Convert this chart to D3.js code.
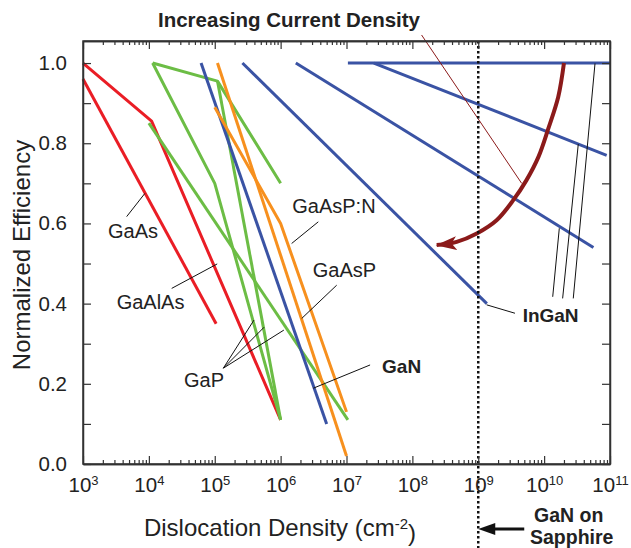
<!DOCTYPE html>
<html lang="en">
<head>
<meta charset="utf-8">
<title>Efficiency vs dislocation density</title>
<script src="https://cdn.jsdelivr.net/npm/d3@7"></script>
<style>
  body { margin: 0; background: #fff; }
  svg text { font-family: "Liberation Sans", Arial, sans-serif; fill: #222; }
</style>
</head>
<body>
<script>
// x = dislocation density (cm^-2), y = normalized efficiency
var gaAs   = [[1e3, 0.96], [1.05e5, 0.35]];
var gaAlAs = [[1e3, 1.0], [1.1e4, 0.855], [1e6, 0.11]];
var gaP1   = [[1.14e4, 1.0], [1.1e5, 0.955], [1e6, 0.70]];
var gaP2   = [[1.14e4, 1.0], [1e5, 0.70], [1e6, 0.11]];
var gaP3   = [[1.1e5, 0.955], [1e6, 0.11]];
var gaP4   = [[1e4, 0.85], [1.05e7, 0.11]];
var gaAsP  = [[1.1e5, 1.0], [1e7, 0.02]];
var gaAsPN = [[1e5, 0.89], [1e6, 0.60], [1e7, 0.13]];
var gaN    = [[6.2e4, 1.0], [5e6, 0.10]];
var inGaN1 = [[2.63e5, 1.0], [1.35e9, 0.40]];
var inGaN2 = [[1.7e6, 1.0], [5.6e10, 0.54]];
var inGaN3 = [[2.6e7, 1.0], [8.9e10, 0.77]];
var inGaN4 = [[1.05e7, 1.0], [1e11, 1.0]];

// current density arrow (curved) and its pointer line
var currentArrow = [[2.0e10, 1.0], [1.64e10, 0.916], [1.16e10, 0.837], [8.2e9, 0.766],
                    [5.4e9, 0.708], [3.4e9, 0.658], [1.9e9, 0.608], [9.5e8, 0.575],
                    [4.7e8, 0.554], [2.34e8, 0.546]];
var currentPointer = [[1.38e8, 1.07], [4.56e9, 0.70]];

var xExponents = [3, 4, 5, 6, 7, 8, 9, 10, 11];
var yTicks = [0, 0.1, 0.2, 0.3, 0.4, 0.5, 0.6, 0.7, 0.8, 0.9, 1.0];
var sapphireDensity = 1e9;

// labels: text, x, y, bold
var labels = [
  ["GaAs", 2.4e3, 0.563, false],
  ["GaAlAs", 3.24e3, 0.386, false],
  ["GaP", 3.41e4, 0.193, false],
  ["GaAsP:N", 1.5e6, 0.625, false],
  ["GaAsP", 3.07e6, 0.466, false],
  ["GaN", 3.47e7, 0.227, true],
  ["InGaN", 4.72e9, 0.355, true]
];

var leaders = [
  [[4.6e3, 0.617], [8.7e3, 0.675]],
  [[2.22e4, 0.438], [1.09e5, 0.499]],
  [[1.35e5, 0.239], [3.94e5, 0.359]],
  [[1.35e5, 0.239], [5.6e5, 0.341]],
  [[1.35e5, 0.239], [1.12e6, 0.334]],
  [[1.47e6, 0.550], [3.73e6, 0.604]],
  [[2.09e6, 0.363], [7.1e6, 0.446]],
  [[3.13e6, 0.189], [2.28e7, 0.247]],
  [[1.34e9, 0.397], [3.61e9, 0.376]],
  [[1.35e10, 0.417], [1.7e10, 0.588]],
  [[1.91e10, 0.413], [3.3e10, 0.798]],
  [[2.77e10, 0.413], [5.92e10, 0.999]]
];

var red = "#ea1d25", green = "#6cbd45", blue = "#3a53a4", orange = "#f7901e", darkRed = "#8b1a1a";

var series = [
  { d: gaAs, c: red }, { d: gaAlAs, c: red },
  { d: gaP1, c: green }, { d: gaP2, c: green }, { d: gaP3, c: green }, { d: gaP4, c: green },
  { d: gaN, c: blue },
  { d: gaAsP, c: orange }, { d: gaAsPN, c: orange },
  { d: inGaN1, c: blue }, { d: inGaN2, c: blue }, { d: inGaN3, c: blue }, { d: inGaN4, c: blue }
];

var w = 631, h = 548;
var pLeft = 83, pRight = 610, pTop = 41, pBottom = 464;

var x = d3.scaleLog().domain([1e3, 1e11]).range([pLeft, pRight]);
var y = d3.scaleLinear().domain([0, 1.055]).range([pBottom, pTop]);

var svg = d3.select("body").append("svg")
  .attr("width", w)
  .attr("height", h);

var line = d3.line()
  .x(function(d) { return x(d[0]); })
  .y(function(d) { return y(d[1]); });

// data lines
svg.selectAll("path.series")
  .data(series)
  .enter()
  .append("path")
  .attr("class", "series")
  .attr("d", function(s) { return line(s.d); })
  .attr("fill", "none")
  .attr("stroke", function(s) { return s.c; })
  .attr("stroke-width", 3)
  .attr("stroke-linejoin", "round");

// leader lines
svg.selectAll("path.leader")
  .data(leaders)
  .enter()
  .append("path")
  .attr("class", "leader")
  .attr("d", line)
  .attr("fill", "none")
  .attr("stroke", "#111")
  .attr("stroke-width", 1);

// curved current-density arrow
svg.append("defs").append("marker")
  .attr("id", "head")
  .attr("markerUnits", "userSpaceOnUse")
  .attr("viewBox", "0 -8 22 16")
  .attr("markerWidth", 22)
  .attr("markerHeight", 16)
  .attr("refX", 20)
  .attr("refY", 0)
  .attr("orient", "auto")
  .append("path")
  .attr("d", "M0,-7 L21,0 L0,7 L5,0 Z")
  .attr("fill", darkRed);

var curve = d3.line()
  .x(function(d) { return x(d[0]); })
  .y(function(d) { return y(d[1]); })
  .curve(d3.curveCatmullRom);

svg.append("path")
  .attr("d", curve(currentArrow))
  .attr("fill", "none")
  .attr("stroke", darkRed)
  .attr("stroke-width", 4)
  .attr("marker-end", "url(#head)");

svg.append("path")
  .attr("d", line(currentPointer))
  .attr("stroke", darkRed)
  .attr("stroke-width", 1);

svg.append("text")
  .attr("x", 158)
  .attr("y", 27)
  .attr("font-size", 20.5)
  .attr("font-weight", "bold")
  .text("Increasing Current Density");

// dotted line at GaN on sapphire density
svg.append("line")
  .attr("x1", x(sapphireDensity))
  .attr("x2", x(sapphireDensity))
  .attr("y1", pTop)
  .attr("y2", h)
  .attr("stroke", "#111")
  .attr("stroke-width", 2.5)
  .attr("stroke-dasharray", "2.5,2.5");

// labels
svg.selectAll("text.lab")
  .data(labels)
  .enter()
  .append("text")
  .attr("class", "lab")
  .attr("x", function(d) { return x(d[1]); })
  .attr("y", function(d) { return y(d[2]); })
  .attr("font-size", function(d) { return d[3] ? 19 : 20; })
  .attr("font-weight", function(d) { return d[3] ? "bold" : "normal"; })
  .text(function(d) { return d[0]; });

// axes
var minorX = [];
xExponents.slice(0, -1).forEach(function(e) {
  for (var k = 2; k <= 9; k++) minorX.push(k * Math.pow(10, e));
});
var majorX = xExponents.map(function(e) { return Math.pow(10, e); });

function styleAxis(g) {
  g.selectAll("path.domain").attr("stroke", "#333").attr("stroke-width", 1.5);
  g.selectAll(".tick line").attr("stroke", "#333").attr("stroke-width", 1.2);
}

var xBottom = svg.append("g")
  .attr("transform", "translate(0," + pBottom + ")")
  .call(d3.axisBottom(x).tickValues(majorX).tickSizeInner(-8).tickSizeOuter(0).tickPadding(13).tickFormat(function() { return ""; }))
  .call(styleAxis);

xBottom.selectAll(".tick text")
  .attr("font-size", 20.5)
  .attr("fill", "#222")
  .each(function(d) {
    var t = d3.select(this);
    t.append("tspan").text("10");
    t.append("tspan").attr("dy", "-0.5em").attr("font-size", 13).text(Math.round(Math.log10(d)));
  });

svg.append("g")
  .attr("transform", "translate(0," + pBottom + ")")
  .call(d3.axisBottom(x).tickValues(minorX).tickSizeInner(-4).tickSizeOuter(0).tickFormat(function() { return ""; }))
  .call(styleAxis);

svg.append("g")
  .attr("transform", "translate(0," + pTop + ")")
  .call(d3.axisTop(x).tickValues(majorX).tickSizeInner(-8).tickSizeOuter(0).tickFormat(function() { return ""; }))
  .call(styleAxis);

svg.append("g")
  .attr("transform", "translate(0," + pTop + ")")
  .call(d3.axisTop(x).tickValues(minorX).tickSizeInner(-4).tickSizeOuter(0).tickFormat(function() { return ""; }))
  .call(styleAxis);

var yLeft = svg.append("g")
  .attr("transform", "translate(" + pLeft + ",0)")
  .call(d3.axisLeft(y).tickValues(yTicks).tickSizeInner(-8).tickSizeOuter(0).tickPadding(16)
    .tickFormat(function(d) { return Math.round(d * 10) % 2 === 0 ? d3.format(".1f")(d) : ""; }))
  .call(styleAxis);
yLeft.selectAll(".tick text").attr("font-size", 20.5).attr("fill", "#222");

svg.append("g")
  .attr("transform", "translate(" + pRight + ",0)")
  .call(d3.axisRight(y).tickValues(yTicks).tickSizeInner(-8).tickSizeOuter(0).tickFormat(function() { return ""; }))
  .call(styleAxis);

// frame
svg.append("rect")
  .attr("x", pLeft)
  .attr("y", pTop)
  .attr("width", pRight - pLeft)
  .attr("height", pBottom - pTop)
  .attr("fill", "none")
  .attr("stroke", "#333")
  .attr("stroke-width", 1.5);

// axis titles
var xt = svg.append("text")
  .attr("x", 280)
  .attr("y", 536)
  .attr("text-anchor", "middle")
  .attr("font-size", 24);
xt.append("tspan").text("Dislocation Density (cm");
xt.append("tspan").attr("dy", "-0.5em").attr("font-size", 15).text("-2");
xt.append("tspan").attr("dy", "0.5em").text(")");

svg.append("text")
  .attr("transform", "translate(30,255) rotate(-90)")
  .attr("text-anchor", "middle")
  .attr("font-size", 24)
  .text("Normalized Efficiency");

// GaN on sapphire note
var xs = x(sapphireDensity);
svg.append("line")
  .attr("x1", xs + 46)
  .attr("x2", xs + 14)
  .attr("y1", 529)
  .attr("y2", 529)
  .attr("stroke", "#111")
  .attr("stroke-width", 3);
svg.append("path")
  .attr("d", "M" + xs + ",529 L" + (xs + 17) + ",523 L" + (xs + 17) + ",535 Z")
  .attr("fill", "#111");

svg.append("text")
  .attr("x", 534)
  .attr("y", 522)
  .attr("font-size", 19.5)
  .attr("font-weight", "bold")
  .text("GaN on");
svg.append("text")
  .attr("x", 530)
  .attr("y", 544)
  .attr("font-size", 19.5)
  .attr("font-weight", "bold")
  .text("Sapphire");
</script>
</body>
</html>
